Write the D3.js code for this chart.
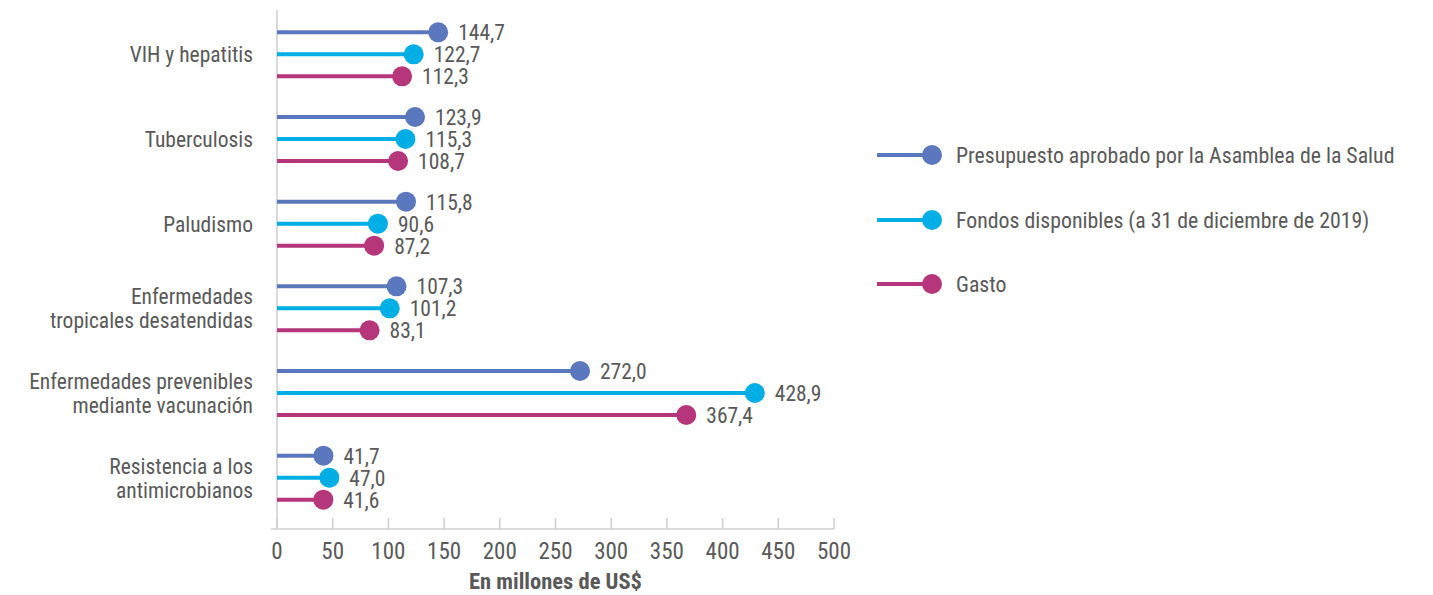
<!DOCTYPE html>
<html><head><meta charset="utf-8">
<script src="https://cdn.jsdelivr.net/npm/d3@7/dist/d3.min.js"></script>
<style>
body{margin:0;background:#fff;}
text{font-family:"Liberation Sans Narrow","Roboto Condensed","Roboto",sans-serif;fill:#595959;}
</style></head>
<body><svg id="c" width="1433" height="595"></svg>
<script>
const categories = [
  ["VIH y hepatitis"],
  ["Tuberculosis"],
  ["Paludismo"],
  ["Enfermedades","tropicales desatendidas"],
  ["Enfermedades prevenibles","mediante vacunación"],
  ["Resistencia a los","antimicrobianos"]
];
const seriesNames = ["Presupuesto aprobado por la Asamblea de la Salud","Fondos disponibles (a 31 de diciembre de 2019)","Gasto"];
const presupuesto = [144.7,123.9,115.8,107.3,272.0,41.7];
const fondos = [122.7,115.3,90.6,101.2,428.9,47.0];
const gasto = [112.3,108.7,87.2,83.1,367.4,41.6];
const xTicks = [0,50,100,150,200,250,300,350,400,450,500];
const colors = ["#5b78be","#00aee6","#b5367b"];
const series = [presupuesto,fondos,gasto];

const svg = d3.select("#c");
const x = d3.scaleLinear().domain([0,500]).range([277,834]);
const y = d3.scaleBand().domain(d3.range(categories.length)).range([12,520]);
const off = d3.scalePoint().domain([0,1,2]).range([-22,22]);
const fmt = v => d3.format(".1f")(v).replace(".",",");

// axes lines
svg.append("line").attr("x1",277).attr("x2",277).attr("y1",10).attr("y2",529).attr("stroke","#cfcfcf").attr("stroke-width",1.5);
const ax = svg.append("g").attr("transform","translate(0,529)");
ax.append("line").attr("x1",271).attr("x2",x(500)).attr("y1",0).attr("y2",0).attr("stroke","#cfcfcf").attr("stroke-width",1.5);
ax.selectAll("line.t").data(xTicks).join("line").attr("class","t")
  .attr("x1",d=>x(d)).attr("x2",d=>x(d)).attr("y1",-11).attr("y2",0).attr("stroke","#cfcfcf").attr("stroke-width",1.5);
ax.selectAll("text").data(xTicks).join("text")
  .attr("x",d=>x(d)).attr("y",30).attr("text-anchor","middle").style("font-size","23px").text(d=>d);
svg.append("text").attr("x",(x(0)+x(500))/2).attr("y",589).attr("text-anchor","middle")
  .style("font-size","22.5px").style("font-weight","bold").text("En millones de US$");

// category labels
categories.forEach((lines,i)=>{
  const cy = y(i)+y.bandwidth()/2;
  const n = lines.length;
  lines.forEach((l,j)=>{
    svg.append("text").attr("x",253).attr("y",cy+(j-(n-1)/2)*24+8)
      .attr("text-anchor","end").style("font-size","21.5px").text(l);
  });
});

// lollipops
series.forEach((vals,s)=>{
  const g = svg.append("g");
  vals.forEach((v,i)=>{
    const cy = y(i)+y.bandwidth()/2+off(s);
    g.append("line").attr("x1",x(0)).attr("x2",x(v)).attr("y1",cy).attr("y2",cy)
      .attr("stroke",colors[s]).attr("stroke-width",4);
    g.append("circle").attr("cx",x(v)).attr("cy",cy).attr("r",10).attr("fill",colors[s]);
    g.append("text").attr("x",x(v)+20).attr("y",cy+8).style("font-size","21.5px").text(fmt(v));
  });
});

// legend
const ly = [155,220,284];
seriesNames.forEach((n,s)=>{
  svg.append("line").attr("x1",877).attr("x2",932).attr("y1",ly[s]).attr("y2",ly[s]).attr("stroke",colors[s]).attr("stroke-width",4);
  svg.append("circle").attr("cx",932).attr("cy",ly[s]).attr("r",10).attr("fill",colors[s]);
  svg.append("text").attr("x",956).attr("y",ly[s]+8).style("font-size","21.8px").text(n);
});
</script></body></html>
